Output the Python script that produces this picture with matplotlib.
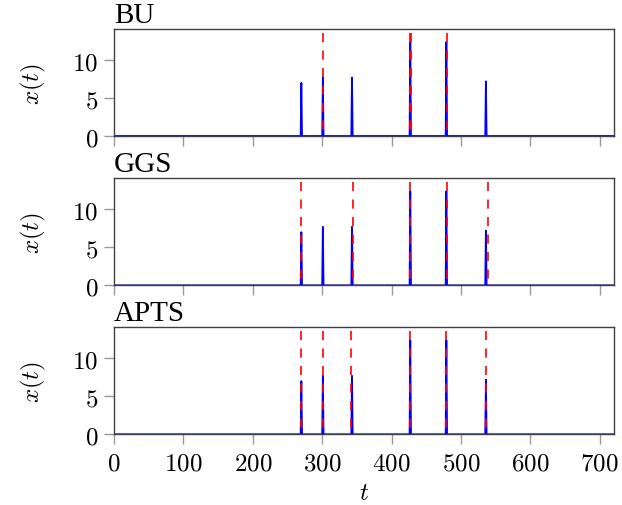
import os

os.environ.setdefault("MPLBACKEND", "Agg")
import matplotlib.pyplot as plt
import numpy as np
from matplotlib.ticker import FuncFormatter

# signal: single-sample spikes on an otherwise flat series
t_max = 720
spike_times = [270, 301, 343, 427, 479, 536]
spike_heights = [7.0, 7.7, 7.7, 12.4, 12.4, 7.2]

# detected change points per method
methods = ["BU", "GGS", "APTS"]
change_points = {
    "BU": [301, 426, 428, 480],
    "GGS": [270, 344, 427, 480, 539],
    "APTS": [270, 301, 342, 426, 479, 536],
}
line_top = 13.6

plt.rcParams["mathtext.fontset"] = "cm"

t = np.arange(0, t_max + 1)
x = np.zeros(len(t))
x[spike_times] = spike_heights

fig = plt.figure(figsize=(6.22, 5.06), dpi=100)
left, width = 114 / 622, 499.6 / 622
bottoms = [1 - 137 / 506, 1 - 286.3 / 506, 1 - 435.3 / 506]
height = 107 / 506

math_fmt = FuncFormatter(lambda v, pos: f"${v:g}$")
for i, (name, bottom) in enumerate(zip(methods, bottoms)):
    ax = fig.add_axes([left, bottom, width, height])
    ax.plot(t, x, color="#0000ff", lw=1.3, zorder=2)
    for cp in change_points[name]:
        ax.plot([cp, cp], [line_top, 0], color="#ff0000", lw=1.2,
                linestyle=(0, (5.5, 5)), zorder=3)
    ax.set_xlim(0, t_max)
    ax.set_ylim(0, 14.1)
    ax.set_yticks([0, 5, 10])
    ax.set_xticks(range(0, 701, 100))
    ax.yaxis.set_major_formatter(math_fmt)
    ax.xaxis.set_major_formatter(math_fmt)
    ax.tick_params(direction="out", length=7.5, width=1, color="0.6",
                   labelsize=18, pad=4)
    if i < 2:
        ax.tick_params(axis="x", labelbottom=False)
    else:
        ax.set_xlabel("$t$", fontsize=18, labelpad=4)
    for sp in ax.spines.values():
        sp.set_color("0.25")
        sp.set_linewidth(1)
    ax.set_ylabel("$x(t)$", fontsize=18, labelpad=17)
    ax.set_title(name, loc="left", fontsize=21, family="Liberation Serif", pad=5)

fig.savefig("out.png", dpi=100)
